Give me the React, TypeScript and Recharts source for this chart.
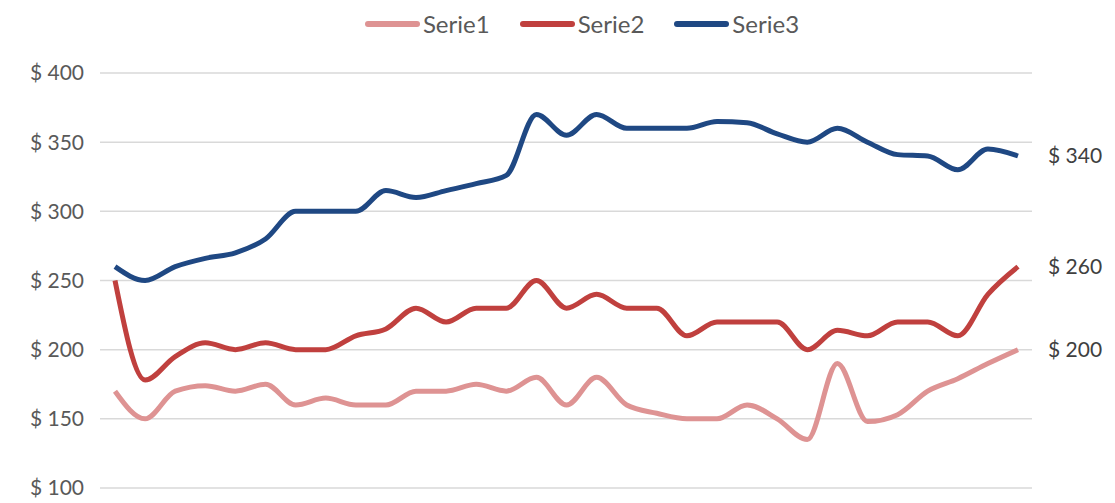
import { LineChart, Line, XAxis, YAxis, CartesianGrid, Legend, LabelList } from 'recharts';

// 31 daily points
const days = [
  '1', '2', '3', '4', '5', '6', '7', '8', '9', '10', '11', '12', '13', '14', '15', '16',
  '17', '18', '19', '20', '21', '22', '23', '24', '25', '26', '27', '28', '29', '30', '31',
];

const serie1 = [
  170, 150, 170, 174, 170, 175, 160, 165, 160, 160, 170, 170, 175, 170, 180, 160,
  180, 160, 154, 150, 150, 160, 150, 135, 190, 148, 153, 170, 179, 190, 200,
];
const serie2 = [
  250, 178, 195, 205, 200, 205, 200, 200, 210, 215, 230, 220, 230, 230, 250, 230,
  240, 230, 230, 210, 220, 220, 220, 200, 214, 210, 220, 220, 210, 240, 260,
];
const serie3 = [
  260, 250, 260, 266, 270, 280, 300, 300, 300, 315, 310, 315, 320, 326, 370, 355,
  370, 360, 360, 360, 365, 364, 356, 350, 360, 350, 341, 340, 330, 345, 340,
];

const yTicks = [100, 150, 200, 250, 300, 350, 400];

const series = [
  { key: 'serie1', name: 'Serie1', color: '#DE9393' },
  { key: 'serie2', name: 'Serie2', color: '#C0403E' },
  { key: 'serie3', name: 'Serie3', color: '#1F4883' },
];

const data = days.map((d, i) => ({
  day: d,
  serie1: serie1[i],
  serie2: serie2[i],
  serie3: serie3[i],
}));

const FONT = 'Lato, "Open Sans", sans-serif';

const TopLegend = () => (
  <div style={{ display: 'flex', justifyContent: 'center', gap: 30, fontFamily: FONT, fontSize: 24, color: '#595959', paddingLeft: 124, marginTop: -3 }}>
    {series.map((s) => (
      <div key={s.key} style={{ display: 'flex', alignItems: 'center' }}>
        <span style={{ display: 'inline-block', width: 55, height: 6, borderRadius: 3, background: s.color, marginRight: 3 }} />
        <span>{s.name}</span>
      </div>
    ))}
  </div>
);

// only label the last point of each line
const EndLabel = (props: any) => {
  const { x, y, value, index } = props;
  if (index !== days.length - 1) return null;
  return (
    <text x={x + 30} y={y} dy={7} fill="#404040" fontSize={21} fontFamily={FONT}>
      {`$ ${value}`}
    </text>
  );
};

export default function App() {
  return (
    <LineChart width={1099} height={490} data={data} margin={{ top: 4, right: 75, left: 0, bottom: 10 }}>
      <Legend verticalAlign="top" height={61} content={<TopLegend />} />
      <CartesianGrid vertical={false} stroke="#d9d9d9" strokeWidth={1.5} />
      <XAxis dataKey="day" hide padding={{ left: 15, right: 14 }} />
      <YAxis
        domain={[100, 400]}
        ticks={yTicks}
        interval={0}
        axisLine={false}
        tickLine={false}
        width={92}
        tickMargin={10}
        tick={{ fill: '#595959', fontSize: 21, fontFamily: FONT }}
        tickFormatter={(v) => `$ ${v}`}
      />
      {series.map((s) => (
        <Line
          key={s.key}
          type="monotone"
          dataKey={s.key}
          name={s.name}
          stroke={s.color}
          strokeWidth={5}
          dot={false}
          isAnimationActive={false}
        >
          <LabelList dataKey={s.key} content={<EndLabel />} />
        </Line>
      ))}
    </LineChart>
  );
}
